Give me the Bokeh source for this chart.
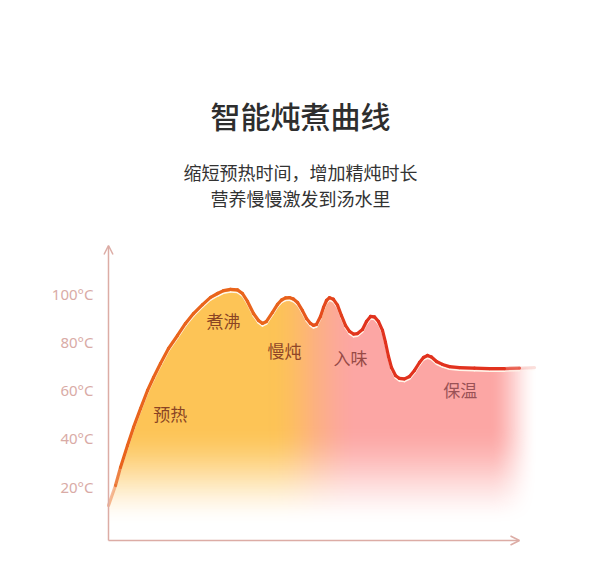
import numpy as np
from bokeh.plotting import figure
from bokeh.models import Range1d, FixedTicker, Label, Arrow, OpenHead, ColumnDataSource
from bokeh.core.properties import value
from bokeh.embed import file_html
from bokeh.resources import INLINE

# ---------------- data ----------------
title_text = "智能炖煮曲线"
subtitle_lines = ["缩短预热时间，增加精炖时长", "营养慢慢激发到汤水里"]

# time (arbitrary units, 0..100 along the x axis) and temperature (°C)
time_pts = [0.00, 1.70, 2.92, 4.62, 6.08, 7.79, 9.49, 10.95, 12.65, 14.60,
            16.79, 18.73, 20.68, 22.87, 24.82, 26.52, 27.98, 29.68, 31.39, 32.60,
            33.82, 35.28, 36.50, 37.47, 38.44, 39.90, 41.12, 42.09, 43.07, 44.04,
            45.01, 45.99, 47.20, 48.18, 49.15, 49.88, 50.61, 51.58, 52.31, 53.04,
            53.77, 54.74, 55.72, 56.69, 57.66, 58.64, 59.61, 60.58, 61.80, 62.77,
            63.75, 64.72, 65.69, 66.67, 67.40, 68.13, 68.86, 69.83, 70.80, 72.02,
            73.24, 74.45, 75.67, 76.64, 77.62, 78.59, 79.81, 81.27, 82.97, 85.40,
            89.05, 92.70, 96.35, 100.00, 103.65]
temp_pts = [12.1, 20.4, 27.9, 37.0, 44.5, 52.3, 59.8, 65.2, 71.0, 77.2,
            82.6, 87.6, 91.7, 95.4, 98.4, 100.0, 101.2, 101.7, 101.5, 100.0,
            96.7, 91.7, 88.8, 87.6, 88.4, 92.2, 95.5, 97.3, 98.2, 98.3,
            97.7, 96.3, 92.9, 89.6, 87.6, 86.8, 87.2, 90.5, 94.2, 97.1,
            98.3, 97.6, 95.2, 90.8, 86.8, 84.3, 83.2, 83.4, 85.1, 88.4,
            90.5, 90.3, 88.4, 84.7, 79.7, 73.9, 69.3, 66.0, 64.8, 64.6,
            65.6, 68.1, 71.4, 73.5, 74.3, 73.7, 71.8, 70.6, 69.7, 69.3,
            69.1, 68.9, 68.9, 69.1, 69.3]

tick_values = [20, 40, 60, 80, 100]
tick_labels = ["20°C", "40°C", "60°C", "80°C", "100°C"]

stage_names = ["预热", "煮沸", "慢炖", "入味", "保温"]
stage_time = [15.0, 28.0, 42.8, 58.9, 85.6]
stage_temp = [50.2, 88.8, 76.4, 73.5, 60.2]

# ---------------- figure ----------------
AXIS_COLOR = "#dcaca5"

p = figure(width=584, height=553,
           x_range=Range1d(-1.9465, 115.82), y_range=Range1d(-7.77, 221.45),
           output_backend="svg", toolbar_location=None,
           min_border_left=100, min_border_right=0, min_border_top=0, min_border_bottom=0)
p.xaxis.visible = False
p.grid.visible = False
p.outline_line_color = None
p.background_fill_color = "white"
p.border_fill_color = "white"

ya = p.yaxis[0]
ya.ticker = FixedTicker(ticks=tick_values)
ya.major_label_overrides = {v: s for v, s in zip(tick_values, tick_labels)}
ya.axis_line_color = None
ya.major_tick_line_color = None
ya.minor_tick_line_color = None
ya.major_tick_out = 0
ya.major_label_standoff = 7
ya.major_label_text_color = "#d9aba6"
ya.major_label_text_font = "Noto Sans"
ya.major_label_text_font_size = "15px"


def smooth(x):
    x = np.clip(x, 0.0, 1.0)
    return x * x * (3 - 2 * x)


# ---------------- gradient fill under the curve ----------------
t0, t1 = 0.0, 106.0
T0, T1 = -2.4, 104.0
nx, ny = 872, 514
tc = t0 + (np.arange(nx) + 0.5) * (t1 - t0) / nx
Tc = T0 + (np.arange(ny) + 0.5) * (T1 - T0) / ny
curve = np.interp(tc, time_pts, temp_pts)
dT = (T1 - T0) / ny
inside = np.clip((curve[None, :] - Tc[:, None]) / dT + 0.5, 0, 1)

m = smooth((tc - 39.0) / 22.0)
yellow = np.array([253, 196, 86], dtype=float)
peach = np.array([253, 178, 128], dtype=float)
pink = np.array([252, 166, 164], dtype=float)
m1 = np.clip(m * 2, 0, 1)[:, None]
m2 = np.clip(m * 2 - 1, 0, 1)[:, None]
rgb = np.where(m[:, None] < 0.5,
               yellow[None, :] * (1 - m1) + peach[None, :] * m1,
               peach[None, :] * (1 - m2) + pink[None, :] * m2)
a_v = smooth((Tc - 3.0) / 42.0)
a_h = smooth((104.5 - tc) / 12.0)
alpha = inside * a_v[:, None] * a_h[None, :]

img = np.zeros((ny, nx), dtype=np.uint32)
view = img.view(dtype=np.uint8).reshape((ny, nx, 4))
view[..., 0] = rgb[None, :, 0].astype(np.uint8)
view[..., 1] = rgb[None, :, 1].astype(np.uint8)
view[..., 2] = rgb[None, :, 2].astype(np.uint8)
view[..., 3] = (alpha * 255).astype(np.uint8)
p.image_rgba(image=[img], x=t0, y=T0, dw=t1 - t0, dh=T1 - T0)

# ---------------- curve line (colour shifts orange -> red, fades at ends) ----------------
tp = np.array(time_pts)
Tp = np.array(temp_pts)
tmid = (tp[:-1] + tp[1:]) / 2
Tmid = (Tp[:-1] + Tp[1:]) / 2
k = smooth((tmid - 40.0) / 25.0)
orange = np.array([233, 100, 28])
red = np.array([225, 50, 30])
cols = ["#%02x%02x%02x" % tuple((orange * (1 - kk) + red * kk).astype(int)) for kk in k]
seg_alpha = smooth((104.0 - tmid) / 9.0) * (0.3 + 0.7 * smooth((Tmid - 10.0) / 22.0))

hl = ColumnDataSource(dict(x0=tp[:-1], y0=Tp[:-1] - 1.1, x1=tp[1:], y1=Tp[1:] - 1.1,
                           a=seg_alpha))
p.segment("x0", "y0", "x1", "y1", source=hl, line_color="#fff6ea", line_width=1.6,
          line_alpha="a", line_cap="round")

src = ColumnDataSource(dict(x0=tp[:-1], y0=Tp[:-1], x1=tp[1:], y1=Tp[1:], c=cols, a=seg_alpha))
p.segment("x0", "y0", "x1", "y1", source=src, line_color="c", line_width=3.2,
          line_alpha="a", line_cap="round", line_join="round")

# ---------------- axes with arrows ----------------
p.add_layout(Arrow(end=OpenHead(size=9, line_color=AXIS_COLOR, line_width=1.5),
                   x_start=0, y_start=-2.4, x_end=0, y_end=119.9,
                   line_color=AXIS_COLOR, line_width=1.5))
p.add_layout(Arrow(end=OpenHead(size=9, line_color=AXIS_COLOR, line_width=1.5),
                   x_start=0, y_start=-2.4, x_end=100.0, y_end=-2.4,
                   line_color=AXIS_COLOR, line_width=1.5))

# ---------------- stage labels ----------------
p.text(x=stage_time, y=stage_temp, text=stage_names,
       text_font=value("Noto Sans CJK SC"), text_font_size="17px",
       text_align="center", text_baseline="middle",
       text_color=["#8a4424", "#8a4424", "#8f4628", "#974a46", "#9a5256"])

# ---------------- titles ----------------
p.add_layout(Label(x=46.72, y=173.8, text=title_text, text_align="center",
                   text_baseline="middle",
                   text_font="'Noto Sans CJK SC Medium', 'Noto Sans CJK SC'",
                   text_font_size="30px", text_color="#2e2e2e"))
for line_txt, yy in zip(subtitle_lines, [150.2, 139.4]):
    p.add_layout(Label(x=46.72, y=yy, text=line_txt, text_align="center",
                       text_baseline="middle", text_font="Noto Sans CJK SC",
                       text_font_size="18px", text_color="#333333"))

open("out.html", "w").write(file_html(p, INLINE))
